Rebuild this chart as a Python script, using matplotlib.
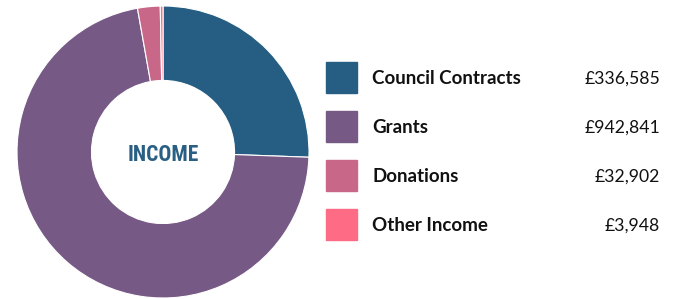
import matplotlib.pyplot as plt
from matplotlib.patches import Rectangle

# valores da receita
categories = ["Council Contracts", "Grants", "Donations", "Other Income"]
values = [336585, 942841, 32902, 3948]
value_labels = ["£336,585", "£942,841", "£32,902", "£3,948"]
colors = ["#265e83", "#765985", "#c96789", "#fd6b85"]

W, H = 675, 299
fig = plt.figure(figsize=(W / 100, H / 100), dpi=100)

# donut: centro (163,152) px, raio 146 px
cx, cy, r = 163, 152, 146
ax = fig.add_axes([(cx - r) / W, (H - cy - r) / H, 2 * r / W, 2 * r / H])
ax.pie(values, colors=colors, startangle=90, counterclock=False, radius=1,
       wedgeprops=dict(width=0.51, edgecolor="white", linewidth=0.8))
ax.set_xlim(-1, 1)
ax.set_ylim(-1, 1)
ax.set_aspect("equal")
ax.axis("off")
ax.text(0, -0.06, "INCOME", ha="center", va="baseline", fontsize=15.5,
        fontweight="bold", color="#2a5f84",
        family=["Roboto Condensed", "Fjalla One", "DejaVu Sans"])

# legenda desenhada em coordenadas de pixels
lbl_font = ["Lato", "DejaVu Sans"]
lg = fig.add_axes([0, 0, 1, 1])
lg.set_xlim(0, W)
lg.set_ylim(H, 0)
lg.axis("off")
for i, (cat, lab, col) in enumerate(zip(categories, value_labels, colors)):
    yc = 77 + 49 * i
    lg.add_patch(Rectangle((326, yc - 15.5), 31, 31, color=col))
    lg.text(372, yc + 7, cat, ha="left", va="baseline", fontsize=13.5,
            fontweight="bold", family=lbl_font, color="#111111")
    lg.text(660, yc + 7, lab, ha="right", va="baseline", fontsize=12.7,
            family=lbl_font, color="#111111")

fig.savefig("out.png", dpi=100)
